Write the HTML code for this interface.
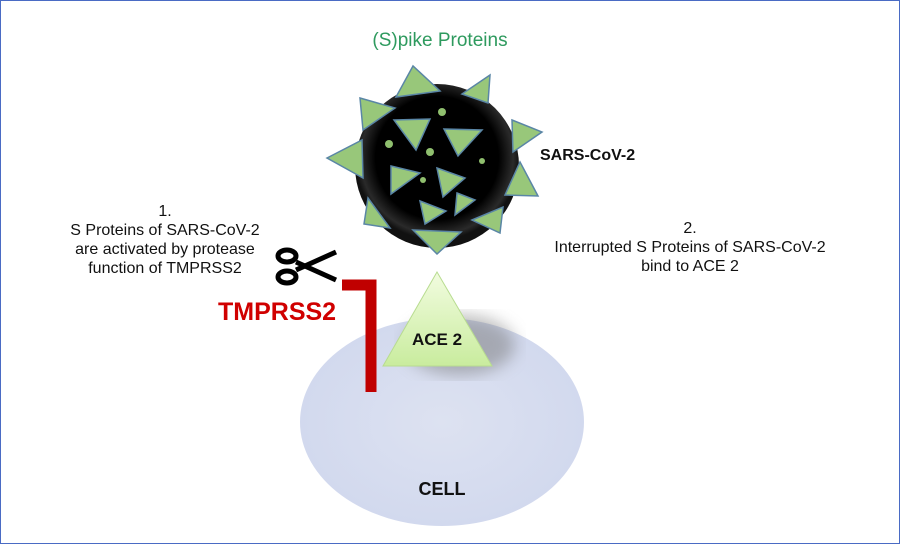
<!DOCTYPE html>
<html><head><style>
body{margin:0;width:900px;height:544px;overflow:hidden;background:#fff;font-family:"Liberation Sans",sans-serif;}
.f{position:absolute;left:0;top:0;width:898px;height:542px;border:1px solid #4a6bc4;box-sizing:content-box;}
.t{position:absolute;text-align:center;font-size:16px;color:#111;line-height:19px;}
</style></head><body>
<div class="f"></div>
<svg width="900" height="544" style="position:absolute;left:0;top:0">
<defs>
<radialGradient id="cell" cx="50%" cy="50%" r="50%"><stop offset="0" stop-color="#dde2f1"/><stop offset="1" stop-color="#d2d9ee"/></radialGradient>
<radialGradient id="vir" cx="50%" cy="45%" r="50%"><stop offset="0.75" stop-color="#000"/><stop offset="0.93" stop-color="#2a2a2a"/><stop offset="1" stop-color="#111"/></radialGradient>
<linearGradient id="ace" x1="0" y1="0" x2="0" y2="1"><stop offset="0" stop-color="#f2fce0"/><stop offset="1" stop-color="#c9ec9e"/></linearGradient>
<filter id="sh"><feGaussianBlur stdDeviation="8"/></filter>
</defs>
<ellipse cx="442" cy="422" rx="142" ry="104" fill="url(#cell)"/>
<ellipse cx="460" cy="345" rx="55" ry="30" fill="#777" opacity="0.5" filter="url(#sh)"/>
<polygon points="437,272 383,366 492,366" fill="url(#ace)" stroke="#b8dc90" stroke-width="1"/>
<circle cx="437" cy="166" r="82" fill="url(#vir)"/>
<g fill="#98c77a" stroke="#5a86a6" stroke-width="1.5">
<polygon points="413,66 396,97 440,91"/>
<polygon points="490,75 462,94 488,103"/>
<polygon points="360,98 395,108 363,130"/>
<polygon points="512,120 542,132 513,152"/>
<polygon points="327,158 362,140 363,178"/>
<polygon points="520,162 538,196 505,195"/>
<polygon points="368,198 390,228 364,224"/>
<polygon points="413,230 461,232 437,254"/>
<polygon points="472,220 503,207 500,233"/>
<polygon points="394,120 430,119 416,150"/>
<polygon points="444,129 482,130 458,156"/>
<polygon points="391,166 420,173 391,194"/>
<polygon points="437,168 465,178 443,197"/>
<polygon points="457,193 475,200 455,215"/>
<polygon points="420,201 446,211 425,224"/>
</g>
<g fill="#8fbf6e">
<circle cx="442" cy="112" r="4"/><circle cx="389" cy="144" r="4"/><circle cx="430" cy="152" r="4"/><circle cx="482" cy="161" r="3"/><circle cx="423" cy="180" r="3"/>
</g>
<path d="M342,285 H371 V392" fill="none" stroke="#c00000" stroke-width="11"/>
<g stroke="#000" stroke-width="5" fill="none">
<line x1="296" y1="262" x2="336" y2="280"/><line x1="296" y1="270" x2="336" y2="252"/>
<ellipse cx="287" cy="256" rx="9" ry="6"/><ellipse cx="287" cy="277" rx="9" ry="6"/>
</g>
</svg>
<div class="t" style="left:340px;top:31px;width:200px;color:#2e9a5e;font-size:19px;">(S)pike Proteins</div>
<div class="t" style="left:540px;top:146px;font-weight:bold;font-size:16px;">SARS-CoV-2</div>
<div class="t" style="left:40px;top:202px;width:250px;">1.<br>S Proteins of SARS-CoV-2<br>are activated by protease<br>function of TMPRSS2</div>
<div class="t" style="left:520px;top:219px;width:340px;">2.<br>Interrupted S Proteins of SARS-CoV-2<br>bind to ACE 2</div>
<div class="t" style="left:218px;top:298px;color:#d00000;font-weight:bold;font-size:25px;line-height:28px;">TMPRSS2</div>
<div class="t" style="left:397px;top:330px;width:80px;font-weight:bold;font-size:17px;">ACE 2</div>
<div class="t" style="left:402px;top:480px;width:80px;font-weight:bold;font-size:18px;">CELL</div>
</body></html>
